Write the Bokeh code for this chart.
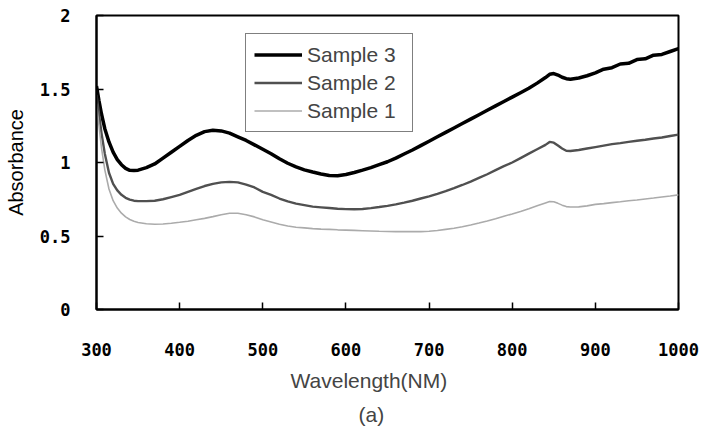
from bokeh.plotting import figure
from bokeh.models import Legend, LegendItem, Title, FixedTicker, Range1d
from bokeh.embed import file_html
from bokeh.resources import INLINE

wavelength = [300, 303, 306, 310, 315, 320, 325, 330, 335, 340, 345, 350,
              360, 370, 380, 390, 400, 410, 420, 430, 440, 450, 460, 470, 480, 490,
              500, 510, 520, 530, 540, 550, 560, 570, 580, 590, 600, 610, 620, 630,
              640, 650, 660, 670, 680, 690, 700, 710, 720, 730, 740, 750, 760, 770,
              780, 790, 800, 810, 820, 830, 840,
              845, 850, 855, 860, 865, 870,
              880, 890, 900, 910, 920, 930, 940, 950, 960, 970, 980, 990, 1000]

sample3 = [1.52, 1.42, 1.33, 1.23, 1.14, 1.07, 1.02, 0.985, 0.96, 0.947, 0.945, 0.948,
           0.965, 0.99, 1.03, 1.07, 1.11, 1.15, 1.185, 1.21, 1.22, 1.215, 1.20, 1.175, 1.15, 1.12,
           1.09, 1.06, 1.025, 0.995, 0.97, 0.95, 0.935, 0.922, 0.912, 0.91, 0.918, 0.932, 0.948, 0.965,
           0.985, 1.005, 1.03, 1.058, 1.085, 1.115, 1.145, 1.175, 1.205, 1.235, 1.265, 1.295, 1.325, 1.355,
           1.385, 1.415, 1.445, 1.475, 1.505, 1.54, 1.578,
           1.60, 1.605, 1.595, 1.58, 1.57, 1.567,
           1.575, 1.59, 1.61, 1.635, 1.645, 1.67, 1.675, 1.70, 1.705, 1.73, 1.735, 1.755, 1.775]

sample2 = [1.46, 1.33, 1.20, 1.06, 0.93, 0.855, 0.81, 0.78, 0.76, 0.748, 0.74, 0.737,
           0.737, 0.74, 0.75, 0.765, 0.78, 0.80, 0.82, 0.84, 0.855, 0.865, 0.868, 0.865, 0.85, 0.83,
           0.80, 0.78, 0.755, 0.735, 0.72, 0.71, 0.70, 0.695, 0.69, 0.685, 0.683, 0.682, 0.684, 0.69,
           0.697, 0.705, 0.715, 0.727, 0.74, 0.755, 0.77, 0.787, 0.805, 0.825, 0.847, 0.87, 0.895, 0.92,
           0.948, 0.975, 1.00, 1.03, 1.06, 1.09, 1.12,
           1.14, 1.135, 1.115, 1.095, 1.08, 1.078,
           1.085, 1.095, 1.105, 1.115, 1.125, 1.132, 1.14, 1.148, 1.155, 1.163, 1.17, 1.18, 1.19]

sample1 = [1.40, 1.25, 1.10, 0.95, 0.82, 0.74, 0.69, 0.655, 0.63, 0.612, 0.60, 0.592,
           0.583, 0.58, 0.582, 0.587, 0.593, 0.60, 0.61, 0.62, 0.632, 0.645, 0.655, 0.655, 0.645, 0.63,
           0.61, 0.595, 0.58, 0.568, 0.56, 0.555, 0.55, 0.547, 0.545, 0.542, 0.54, 0.538, 0.536, 0.534,
           0.532, 0.531, 0.53, 0.53, 0.53, 0.53, 0.532, 0.537, 0.545, 0.553, 0.563, 0.575, 0.588, 0.602,
           0.618, 0.635, 0.65, 0.667, 0.685, 0.705, 0.725,
           0.735, 0.733, 0.722, 0.71, 0.70, 0.697,
           0.698, 0.705, 0.715, 0.72, 0.727, 0.733, 0.74, 0.745, 0.752, 0.758, 0.765, 0.772, 0.78]

series_names = ["Sample 3", "Sample 2", "Sample 1"]
x_ticks = [300, 400, 500, 600, 700, 800, 900, 1000]
y_ticks = [0, 0.5, 1, 1.5, 2]
y_tick_labels = {0: "0", 0.5: "0.5", 1: "1", 1.5: "1.5", 2: "2"}

p = figure(width=700, height=431, output_backend="svg", toolbar_location=None,
           x_range=Range1d(300, 1000), y_range=Range1d(0, 2),
           min_border_left=96, min_border_right=22, min_border_top=15, min_border_bottom=122)

p.xgrid.visible = False
p.ygrid.visible = False
p.outline_line_color = "black"
p.outline_line_width = 2
p.background_fill_color = "white"
p.border_fill_color = "white"

l3 = p.line(wavelength, sample3, line_color="black", line_width=3.5)
l2 = p.line(wavelength, sample2, line_color="#505050", line_width=2.4)
l1 = p.line(wavelength, sample1, line_color="#ababab", line_width=1.6)

tick_font = "DejaVu Sans Mono"
p.xaxis.ticker = FixedTicker(ticks=x_ticks)
p.yaxis.ticker = FixedTicker(ticks=y_ticks)
p.yaxis.major_label_overrides = y_tick_labels
for ax in (p.xaxis[0], p.yaxis[0]):
    ax.axis_line_width = 2
    ax.axis_line_color = "black"
    ax.major_tick_in = 7
    ax.major_tick_out = 0
    ax.minor_tick_in = 0
    ax.minor_tick_out = 0
    ax.major_tick_line_width = 1.5
    ax.major_label_text_font = tick_font
    ax.major_label_text_font_size = "17px"
    ax.major_label_text_font_style = "bold"
    ax.major_label_text_color = "black"
    ax.axis_label_text_font = "Liberation Sans"
    ax.axis_label_text_font_size = "20px"
    ax.axis_label_text_font_style = "normal"
    ax.axis_label_text_color = "black"

p.xaxis.major_label_standoff = 33
p.yaxis.axis_label = "Absorbance"
p.yaxis.major_label_standoff = 26
p.yaxis.axis_label_standoff = 10

legend = Legend(items=[LegendItem(label=series_names[0], renderers=[l3]),
                       LegendItem(label=series_names[1], renderers=[l2]),
                       LegendItem(label=series_names[2], renderers=[l1])],
                location=(149, 177))
legend.border_line_color = "black"
legend.border_line_width = 1
legend.background_fill_alpha = 1
legend.label_text_font = "Liberation Sans"
legend.label_text_font_size = "21px"
legend.glyph_width = 48
legend.glyph_height = 25
legend.label_height = 25
legend.label_width = 97
legend.label_standoff = 5
legend.spacing = 3
legend.padding = 8
legend.margin = 0
p.add_layout(legend, "center")

p.add_layout(Title(text="Wavelength(NM)", align="left", offset=194, standoff=17,
                   text_font="Liberation Sans", text_font_size="21px",
                   text_font_style="normal"), "below")
p.add_layout(Title(text="(a)", align="left", offset=262, standoff=0,
                   text_font="Liberation Sans", text_font_size="21px",
                   text_font_style="normal"), "below")

open("out.html", "w").write(file_html(p, INLINE))
